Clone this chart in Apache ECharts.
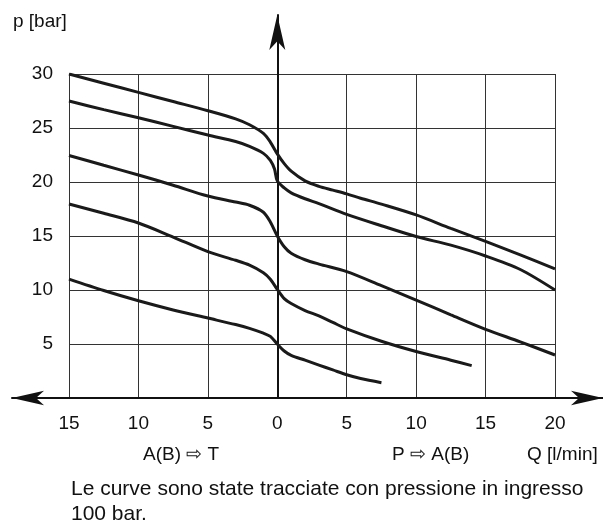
<!DOCTYPE html>
<html><head><meta charset="utf-8">
<script src="https://cdn.jsdelivr.net/npm/echarts@6/dist/echarts.min.js"></script>
<style>html,body{margin:0;padding:0;background:#fff}#c{width:603px;height:521px}</style>
</head><body><div id="c"></div>
<script>
// Flow Q [l/min]: negative = A(B) => T side, positive = P => A(B) side
const xTicks = [-15, -10, -5, 0, 5, 10, 15, 20];
const yTicks = [5, 10, 15, 20, 25, 30];
const curve1 = [[-15,30],[-12.5,29.15],[-10,28.3],[-7.5,27.45],[-5,26.6],[-3,25.85],[-2,25.3],[-1,24.5],[-0.5,23.7],[0,22.6],[0.5,21.7],[1,21.0],[2,20.1],[3,19.6],[4,19.25],[5,18.9],[6,18.5],[7.5,17.95],[10,16.95],[12.5,15.7],[15,14.5],[17.5,13.25],[20,11.95]];
const curve2 = [[-15,27.5],[-12.5,26.7],[-10,25.95],[-7.5,25.15],[-5,24.35],[-3,23.75],[-2,23.3],[-1,22.65],[-0.5,22.0],[-0.2,21.2],[0,20.1],[0.5,19.45],[1,19.0],[2,18.45],[3,18.0],[5,17.0],[7.5,15.95],[10,14.95],[12.5,14.15],[15,13.15],[17.5,11.9],[20,10.0]];
const curve3 = [[-15,22.45],[-12.5,21.55],[-10,20.65],[-7.5,19.7],[-5,18.7],[-3,18.15],[-2,17.85],[-1,17.2],[-0.5,16.3],[0,15.0],[0.5,14.0],[1,13.4],[2,12.8],[3,12.4],[5,11.7],[7.5,10.4],[10,9.07],[12.5,7.7],[15,6.36],[17.5,5.2],[20,3.98]];
const curve4 = [[-15,17.96],[-12.5,17.1],[-10,16.2],[-7.5,14.9],[-5,13.55],[-3,12.75],[-2,12.3],[-1,11.6],[-0.5,11.0],[0,10.05],[0.5,9.2],[1,8.75],[2,8.1],[3,7.6],[4,7.0],[5,6.4],[7.5,5.25],[10,4.3],[12.5,3.5],[14,3.0]];
const curve5 = [[-15,11.0],[-12.5,9.95],[-10,9.0],[-7.5,8.15],[-5,7.4],[-3,6.8],[-2,6.45],[-1,6.0],[-0.5,5.7],[0,5.0],[0.5,4.35],[1,3.95],[2,3.5],[3,3.05],[4,2.6],[5,2.15],[6,1.8],[7.5,1.42]];
const curves = [curve1, curve2, curve3, curve4, curve5];

const chart = echarts.init(document.getElementById('c'), null, {renderer:'canvas'});
const FONT = 'Liberation Sans, Arial, sans-serif';
const lineSeries = curves.map((d) => ({
  type: 'line', xAxisIndex: 0, yAxisIndex: 0, data: d, smooth: 0.3,
  showSymbol: false, symbol: 'none', z: 5,
  lineStyle: {color: '#1a1a1a', width: 3}
}));
chart.setOption({
  animation: false,
  backgroundColor: '#fff',
  grid: [
    {left: 69, right: 48, top: 74, bottom: 123},
    {left: 12, right: 0, top: 15, bottom: 123}
  ],
  xAxis: [
    {type: 'value', gridIndex: 0, min: -15, max: 20, interval: 5,
     axisLine: {show: false}, axisTick: {show: false},
     splitLine: {show: true, lineStyle: {color: '#333', width: 1}},
     axisLabel: {margin: 16, fontSize: 19, color: '#111', fontFamily: FONT,
       formatter: v => String(Math.abs(v))}},
    {type: 'value', gridIndex: 1, min: -19.1, max: 23.45,
     axisLine: {show: true, onZero: false, symbol: ['arrow', 'arrow'], symbolSize: [11, 32],
       lineStyle: {color: '#111', width: 2}},
     axisTick: {show: false}, axisLabel: {show: false}, splitLine: {show: false}}
  ],
  yAxis: [
    {type: 'value', gridIndex: 0, min: 0, max: 30, interval: 5,
     axisLine: {show: false}, axisTick: {show: false},
     splitLine: {show: true, lineStyle: {color: '#333', width: 1}},
     axisLabel: {margin: 16, fontSize: 19, color: '#111', fontFamily: FONT, showMinLabel: false}},
    {type: 'value', gridIndex: 1, min: 0, max: 35.46,
     axisLine: {show: true, onZero: true, symbol: ['none', 'arrow'], symbolSize: [12, 35],
       lineStyle: {color: '#111', width: 2}},
     axisTick: {show: false}, axisLabel: {show: false}, splitLine: {show: false}}
  ],
  graphic: [
    {type: 'text', left: 13, top: 12, style: {text: 'p [bar]', fontSize: 19, fill: '#111', fontFamily: FONT}},
    {type: 'text', left: 143, top: 445, style: {text: 'A(B) \u21E8 T', fontSize: 19, fill: '#111', fontFamily: FONT}},
    {type: 'text', left: 392, top: 445, style: {text: 'P \u21E8 A(B)', fontSize: 19, fill: '#111', fontFamily: FONT}},
    {type: 'text', left: 527, top: 445, style: {text: 'Q [l/min]', fontSize: 19, fill: '#111', fontFamily: FONT}},
    {type: 'text', left: 71, top: 477, style: {text: 'Le curve sono state tracciate con pressione in ingresso\n100 bar.', fontSize: 21, lineHeight: 25, fill: '#111', fontFamily: FONT}}
  ],
  series: lineSeries
});
</script></body></html>
